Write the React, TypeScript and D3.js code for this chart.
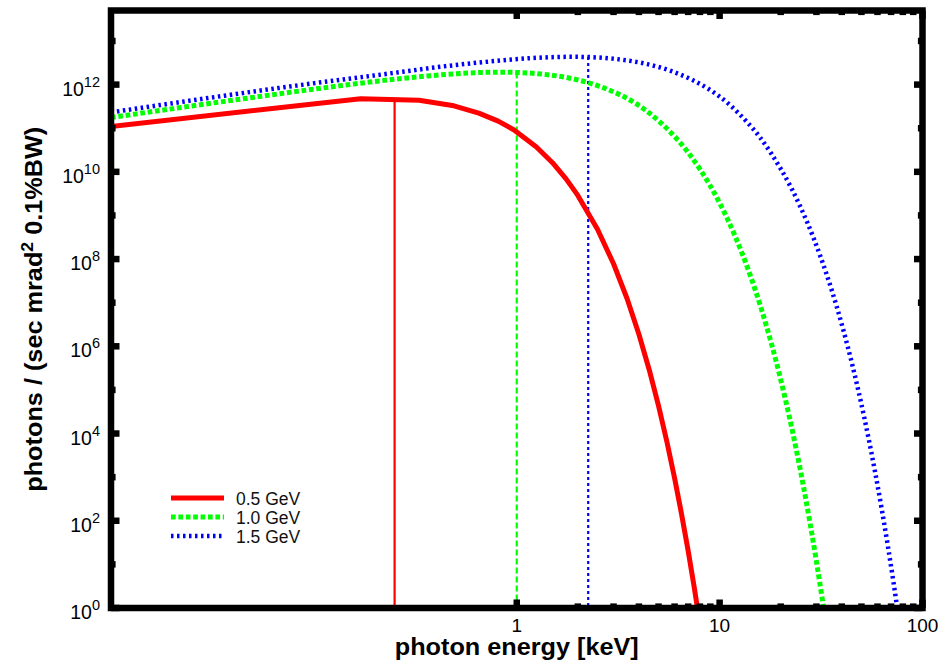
import React from "react";
import * as d3 from "d3";

const energyRed = [0.01, 0.17, 0.33, 0.49, 0.65, 0.81, 0.97, 1.25, 1.5, 1.75, 2.0, 2.5, 3.0, 3.5, 4.0, 4.5, 5.0, 5.5, 6.0, 6.5, 7.0, 7.5, 8.0];
const fluxRed = [1.10e11, 4.75e11, 4.38e11, 3.27e11, 2.22e11, 1.45e11, 9.11e10, 3.70e10, 1.62e10, 6.89e9, 2.88e9, 4.83e8, 7.81e7, 1.23e7, 1.89e6, 2.87e5, 4.31e4, 6.41e3, 9.45e2, 1.38e2, 20.2, 2.92, 0.421];

const energyGreen = [0.01, 0.05, 0.1, 0.2, 0.3, 0.45, 0.68, 0.83, 1.0, 1.32, 1.65, 1.96, 2.6, 3.24, 3.88, 5, 6, 7, 8, 10, 12, 14, 16, 18, 20, 22, 24, 26, 28, 30, 32, 34];
const fluxGreen = [1.76e11, 5.08e11, 7.88e11, 1.18e12, 1.45e12, 1.71e12, 1.90e12, 1.93e12, 1.90e12, 1.75e12, 1.53e12, 1.31e12, 8.89e11, 5.79e11, 3.65e11, 1.48e11, 6.47e10, 2.76e10, 1.15e10, 1.93e9, 3.12e8, 4.91e7, 7.57e6, 1.15e6, 1.73e5, 2.57e4, 3.78e3, 5.54e2, 80.6, 11.7, 1.69, 0.242];

const energyBlue = [0.01, 0.11, 0.23, 0.45, 0.68, 1.01, 1.53, 1.87, 2.25, 2.97, 3.71, 4.41, 5.85, 7.29, 8.73, 11.3, 13.5, 15.8, 18, 22.5, 27, 31.5, 36, 40.5, 45, 49.5, 54, 58.5, 63, 67.5, 72, 76.5];
const fluxBlue = [2.31e11, 1.14e12, 1.77e12, 2.66e12, 3.27e12, 3.86e12, 4.27e12, 4.34e12, 4.28e12, 3.94e12, 3.44e12, 2.94e12, 2.00e12, 1.30e12, 8.20e11, 3.33e11, 1.46e11, 6.20e10, 2.59e10, 4.35e9, 7.03e8, 1.10e8, 1.70e7, 2.59e6, 3.88e5, 5.77e4, 8.51e3, 1.25e3, 181, 26.3, 3.79, 0.545];

// critical energies and the curve value there
const criticalEnergy = [0.25, 1.0, 2.25];
const criticalFlux = [4.53e11, 1.90e12, 4.28e12];

const seriesLabels = ["0.5 GeV", "1.0 GeV", "1.5 GeV"];
const seriesColors = ["#ff0000", "#00ff00", "#0000ff"];

const xMajorTicks = [1, 10, 100];
const xMinorTicks = [2, 3, 4, 5, 6, 7, 8, 9, 20, 30, 40, 50, 60, 70, 80, 90];
const yMajorExp = [0, 2, 4, 6, 8, 10, 12];
const yMinorExp = [1, 3, 5, 7, 9, 11, 13];

const W = 944, H = 663;
const L = 111, R = 922.5, T = 10.5, B = 608;
const FONT = "'Liberation Sans', Arial, Helvetica, sans-serif";

export default function App() {
  const x = d3.scaleLog().domain([0.01, 100]).range([L, R]);
  const y = d3.scaleLog().domain([1, 5e13]).range([B, T]);

  const series = [
    { e: energyRed, f: fluxRed, curve: d3.curveLinear, width: 5, dash: undefined as string | undefined },
    { e: energyGreen, f: fluxGreen, curve: d3.curveMonotoneX, width: 5, dash: "4.7,2.7" },
    { e: energyBlue, f: fluxBlue, curve: d3.curveMonotoneX, width: 4.5, dash: "2.5,3.5" },
  ];
  const vDash = [undefined, "6,3", "3,3"];

  const frameW = 6.5;
  const majorLen = 8.5;
  const minorLen = 4.6;

  return (
    <svg width={W} height={H} style={{ position: "absolute", left: 0, top: 0, background: "#fff" }} fontFamily={FONT}>
      <defs>
        <clipPath id="plotclip">
          <rect x={L} y={T} width={R - L} height={B - T} />
        </clipPath>
      </defs>
      <rect x={0} y={0} width={W} height={H} fill="#fff" />

      {/* critical energy lines */}
      <g clipPath="url(#plotclip)">
        {criticalEnergy.map((ce, i) => (
          <line key={"c" + i} x1={x(ce)} x2={x(ce)} y1={y(criticalFlux[i])} y2={y(1)}
            stroke={seriesColors[i]} strokeWidth={2.2} strokeDasharray={vDash[i]} />
        ))}
        {series.map((s, i) => {
          const pts: [number, number][] = s.e.map((e, j) => [x(e), y(s.f[j])]);
          const path = d3.line().curve(s.curve)(pts) || "";
          return (
            <path key={"s" + i} d={path} fill="none" stroke={seriesColors[i]} strokeWidth={s.width}
              strokeDasharray={s.dash} strokeLinejoin="round" />
          );
        })}
      </g>

      {/* ticks */}
      <g stroke="#000" strokeWidth={frameW}>
        {yMajorExp.map((k) => (
          <g key={"ym" + k}>
            <line x1={L} x2={L + majorLen} y1={y(10 ** k)} y2={y(10 ** k)} />
            <line x1={R} x2={R - majorLen} y1={y(10 ** k)} y2={y(10 ** k)} />
          </g>
        ))}
        {yMinorExp.map((k) => (
          <g key={"yn" + k}>
            <line x1={L} x2={L + minorLen} y1={y(10 ** k)} y2={y(10 ** k)} />
            <line x1={R} x2={R - minorLen} y1={y(10 ** k)} y2={y(10 ** k)} />
          </g>
        ))}
        {xMajorTicks.map((v) => (
          <g key={"xm" + v}>
            <line x1={x(v)} x2={x(v)} y1={B} y2={B - majorLen} />
            <line x1={x(v)} x2={x(v)} y1={T} y2={T + majorLen} />
          </g>
        ))}
        {xMinorTicks.map((v) => (
          <g key={"xn" + v}>
            <line x1={x(v)} x2={x(v)} y1={B} y2={B - minorLen} />
            <line x1={x(v)} x2={x(v)} y1={T} y2={T + minorLen} />
          </g>
        ))}
      </g>

      {/* frame */}
      <rect x={L} y={T} width={R - L} height={B - T} fill="none" stroke="#000" strokeWidth={frameW} />

      {/* y tick labels */}
      {yMajorExp.map((k) => (
        <text key={"yl" + k} x={100} y={y(10 ** k) + 11} textAnchor="end" fontSize={19.5} fill="#000">
          <tspan>10</tspan>
          <tspan dy={-9} fontSize={14.5}>{String(k)}</tspan>
        </text>
      ))}

      {/* x tick labels */}
      {xMajorTicks.map((v) => (
        <text key={"xl" + v} x={x(v)} y={632} textAnchor="middle" fontSize={19} fill="#000">
          {String(v)}
        </text>
      ))}

      {/* axis titles */}
      <text x={(L + R) / 2} y={655} textAnchor="middle" fontSize={23} fontWeight="bold" fill="#000"
        textLength={244} lengthAdjust="spacingAndGlyphs">
        photon energy [keV]
      </text>
      <text transform={`translate(42,${(T + B) / 2}) rotate(-90)`} textAnchor="middle" fontSize={23}
        fontWeight="bold" fill="#000" textLength={365} lengthAdjust="spacingAndGlyphs">
        <tspan>photons / (sec mrad</tspan>
        <tspan dy={-9} fontSize={16}>2</tspan>
        <tspan dy={9}> 0.1%BW)</tspan>
      </text>

      {/* legend */}
      {seriesLabels.map((lab, i) => {
        const ly = 498 + i * 19;
        return (
          <g key={"lg" + i}>
            <line x1={171} x2={224} y1={ly} y2={ly} stroke={seriesColors[i]} strokeWidth={series[i].width}
              strokeDasharray={series[i].dash} />
            <text x={236} y={ly + 6.5} fontSize={17.5} fill="#111">{lab}</text>
          </g>
        );
      })}
    </svg>
  );
}
